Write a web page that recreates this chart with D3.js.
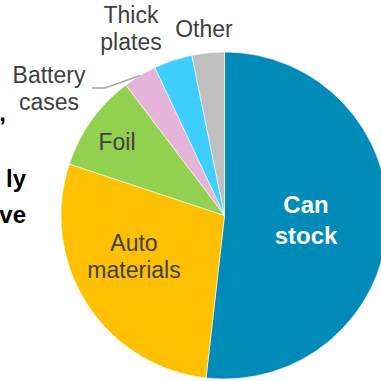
<!DOCTYPE html>
<html>
<head>
<meta charset="utf-8">
<script src="https://cdn.jsdelivr.net/npm/d3@7"></script>
<style>
  html, body { margin: 0; padding: 0; background: #fff; }
  svg { display: block; }
</style>
</head>
<body>
<svg id="chart" width="381" height="381"></svg>
<script>
// Aluminium end-use shares (%)
const categories = ["Can stock", "Auto materials", "Foil", "Battery cases", "Thick plates", "Other"];
const shares = [51.8, 28.3, 9.6, 3.3, 3.8, 3.2];
const labelLines = [["Can", "stock"], ["Auto", "materials"], ["Foil"], ["Battery", "cases"], ["Thick", "plates"], ["Other"]];
const sideNoteLines = [",", "", "ly", "ve"];

const colors = ["#008bb9", "#ffc000", "#92d050", "#e6b4d8", "#3dcfff", "#bfbfbf"];

const svg = d3.select("#chart");
const cx = 224.5, cy = 215.5, R = 163.5;

// Text cut off by the left edge (continues from the neighbouring panel)
const side = svg.append("g")
  .attr("font-family", "'Liberation Sans', Arial, sans-serif")
  .attr("font-weight", "bold")
  .attr("font-size", 24)
  .attr("fill", "#000")
  .attr("text-anchor", "end");
const sideBaselines = [121, 153, 187, 223];
const sideEnds = [6, 6, 26, 26];
sideNoteLines.forEach((t, i) => {
  if (!t) return;
  side.append("text").attr("x", sideEnds[i]).attr("y", sideBaselines[i]).text(t);
});

const pie = d3.pie().sort(null).value(d => d)(shares);
const arc = d3.arc().innerRadius(0).outerRadius(R);
const rim = d3.arc().innerRadius(R).outerRadius(R);

const g = svg.append("g").attr("transform", `translate(${cx},${cy})`);

g.selectAll("path.slice")
  .data(pie)
  .join("path")
  .attr("class", "slice")
  .attr("d", arc)
  .attr("fill", (d, i) => colors[i])
  .attr("stroke", "#ffffff")
  .attr("stroke-width", 0.6);

// Label placement (centre of each text block, in page pixels)
const labelLayout = {
  "Can stock":      { x: 306, y: 207, size: 24, bold: true,  color: "#ffffff", lh: 30.5 },
  "Auto materials": { x: 134, y: 245, size: 23, bold: false, color: "#404040", lh: 26.7 },
  "Foil":           { x: 117, y: 144, size: 23, bold: false, color: "#404040", lh: 27 },
  "Battery cases":  { x: 49,  y: 77,  size: 23, bold: false, color: "#404040", lh: 26.7 },
  "Thick plates":   { x: 131, y: 17,  size: 23, bold: false, color: "#404040", lh: 26.7 },
  "Other":          { x: 204, y: 31,  size: 23, bold: false, color: "#404040", lh: 27 }
};

const labels = svg.append("g")
  .attr("font-family", "'Liberation Sans', Arial, sans-serif")
  .attr("text-anchor", "middle");

categories.forEach((c, i) => {
  const L = labelLayout[c];
  const t = labels.append("text")
    .attr("x", L.x)
    .attr("y", L.y)
    .attr("font-size", L.size)
    .attr("font-weight", L.bold ? "bold" : "normal")
    .attr("fill", L.color)
    .attr("dominant-baseline", "middle");
  labelLines[i].forEach((line, k) => {
    t.append("tspan").attr("x", L.x).attr("y", L.y + k * L.lh).text(line);
  });
});

// Leader line from the "Battery cases" label to its slice
const bi = categories.indexOf("Battery cases");
const edge = rim.centroid(pie[bi]);
const leader = d3.line()([[92, 88], [105, 88], [cx + edge[0], cy + edge[1]]]);
svg.append("path")
  .attr("d", leader)
  .attr("fill", "none")
  .attr("stroke", "#a6a6a6")
  .attr("stroke-width", 1.5);
</script>
</body>
</html>
